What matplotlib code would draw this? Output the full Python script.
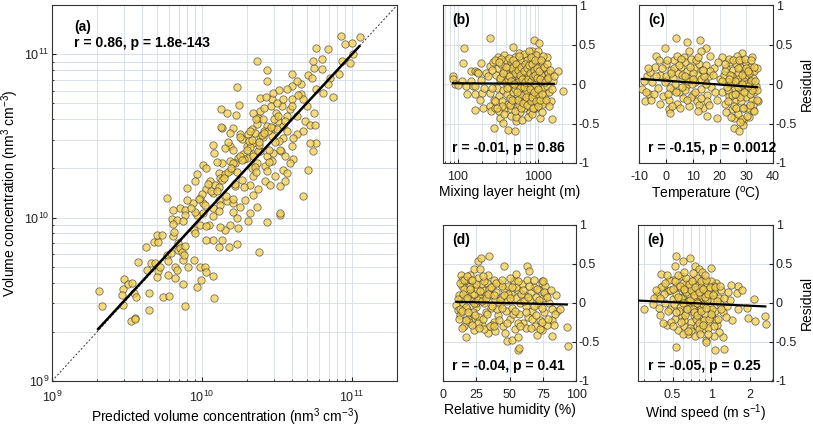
import matplotlib
matplotlib.use('Agg')
import matplotlib.pyplot as plt
import numpy as np
from matplotlib import rcParams
from matplotlib.ticker import LogLocator, FixedLocator, NullFormatter, FixedFormatter

config = {
    'font.family': ['Liberation Sans', 'DejaVu Sans'],
    'font.size': 9.5,
    'mathtext.fontset': 'custom',
    'mathtext.rm': 'Liberation Sans',
    'mathtext.default': 'regular',
    'axes.unicode_minus': False,
}
rcParams.update(config)

# ---- (a) predicted vs observed volume concentration, units of 1e10 nm3 cm-3
pred_a = [0.207, 0.214, 0.303, 0.296, 0.292, 0.299, 0.323, 0.343, 0.352, 0.363, 0.336, 0.359, 0.355,
          0.374, 0.427, 0.445, 0.443, 0.423, 0.459, 0.486, 0.481, 0.507, 0.499, 0.543, 0.512, 0.499,
          0.525, 0.552, 0.603, 0.582, 0.596, 0.596, 0.621, 0.628, 0.678, 0.638, 0.644, 0.689, 0.661,
          0.678, 0.664, 0.689, 0.713, 0.733, 0.743, 0.759, 0.770, 0.743, 0.767, 0.811, 0.885, 0.922,
          0.990, 0.970, 1.04, 1.06, 1.18, 1.20, 0.885, 0.898, 0.920, 0.970, 1.02,
          1.19, 1.29, 1.37, 1.72, 1.52, 2.41, 2.70, 3.30, 2.04, 1.70, 1.75, 1.54, 1.42, 1.32, 1.12,
          1.07, 1.06, 1.19,
          8.41, 11.3, 8.98, 9.95, 5.75, 6.95, 10.2, 9.70, 8.60, 8.20, 7.10, 6.28, 5.60, 5.50, 6.30,
          5.10, 5.40, 6.95, 6.40, 7.50, 5.80, 4.60, 3.96, 4.30, 3.96, 4.00, 4.60, 4.70, 5.00, 5.60,
          4.86, 5.25, 5.66, 5.80, 5.50, 5.07, 5.25, 4.73, 4.28, 4.06, 3.96, 4.06, 4.73, 3.30, 3.67,
          3.40, 3.49, 3.11, 2.91, 2.99, 3.28, 3.67, 2.70, 2.70, 2.32, 1.70, 1.77, 1.69, 1.34, 1.46,
          2.44, 2.67, 2.44, 2.20, 2.37, 2.56, 2.70, 2.32, 2.14, 2.99, 3.15, 3.48, 3.28, 2.91, 2.44,
          2.26, 2.04, 1.62, 1.54, 1.37, 1.79, 1.84, 1.54, 1.19, 1.42, 1.62, 1.99, 2.20, 2.20, 2.44,
          2.70, 2.99, 2.91, 2.63, 2.32, 2.14, 1.99, 1.75, 1.66, 1.54, 1.35, 1.25, 1.02, 1.07, 1.29,
          1.32, 1.13, 1.22, 0.92, 0.898, 0.798, 1.07, 1.19, 1.29, 1.46, 1.62, 1.79, 1.94, 2.20, 2.37,
          2.63, 2.84, 3.07, 2.70, 2.20, 2.09, 1.84, 1.66, 1.45, 1.32, 1.19, 1.05, 0.970, 0.875,
          0.791, 0.713, 0.770, 0.644, 0.582, 0.770, 0.898, 1.02, 1.62, 2.09, 2.32, 1.34, 2.87, 3.15,
          3.48, 3.86, 4.28, 3.67, 3.36, 3.57, 3.86, 3.48, 3.67, 3.57, 3.31,
          1.56, 1.88, 2.10, 2.35, 2.55, 2.80, 3.05, 1.42, 1.65, 1.90, 2.25, 2.60, 1.30, 1.50, 1.80,
          2.05, 2.40, 2.75, 3.20, 1.15, 1.35, 1.60, 2.15, 2.50, 3.00,
          1.00, 1.10, 1.25, 1.40, 1.55, 1.70, 1.85, 2.00, 2.20, 2.40, 2.60, 2.90, 3.20, 3.60, 4.00,
          4.40, 1.20, 1.50, 1.80, 2.10, 2.30, 2.60, 1.30, 1.60, 1.90, 2.30, 2.80, 3.30, 0.85, 0.95,
          0.75, 0.65]
obs_a = [0.355, 0.286, 0.420, 0.365, 0.336, 0.291, 0.390, 0.400, 0.345, 0.326, 0.233, 0.243, 0.238,
         0.537, 0.480, 0.345, 0.272, 0.658, 0.527, 0.527, 0.708, 0.708, 0.787, 0.787, 0.469, 0.433,
         0.500, 0.329, 0.331, 0.593, 0.540, 0.447, 0.607, 0.980, 0.973, 0.920, 0.767, 0.700, 0.500,
         0.475, 0.428, 0.630, 0.650, 0.620, 0.552, 0.593, 0.667, 0.394, 0.286, 0.500, 0.552, 0.376,
         0.417, 0.500, 0.500, 0.467, 0.437, 0.320, 0.843, 0.805, 1.04, 0.906, 1.23,
         0.730, 0.660, 0.733, 0.692, 0.660, 0.612, 0.940, 1.04, 0.950, 0.996, 0.870, 0.906, 0.843,
         0.874, 0.906, 0.885, 0.733, 1.02,
         12.9, 12.7, 11.6, 11.8, 11.0, 10.8, 10.0, 8.90, 9.10, 7.60, 7.20, 8.10, 8.20, 9.10, 9.30,
         7.50, 7.20, 6.55, 5.80, 5.50, 6.10, 6.55, 7.60, 6.85, 6.40, 5.30, 5.70, 5.30, 4.80, 4.40,
         3.90, 3.70, 3.70, 2.85, 2.55, 1.95, 2.85, 3.39, 3.23, 3.08, 2.74, 2.29, 1.35, 1.07, 4.18,
         4.82, 3.63, 4.39, 5.30, 5.83, 6.05, 6.10, 6.85, 8.00, 9.10, 6.33, 4.87, 4.28, 4.65, 4.39,
         5.42, 5.50, 4.49, 4.39, 4.09, 3.99, 3.63, 3.72, 3.50, 3.55, 3.47, 3.08, 2.94, 3.16, 3.16,
         3.30, 3.23, 3.55, 3.30, 3.55, 3.23, 3.01, 2.74, 2.77, 2.67, 2.61, 2.74, 2.87, 2.47, 2.55,
         2.38, 2.50, 2.21, 2.08, 2.16, 2.02, 2.32, 2.32, 2.16, 2.21, 2.16, 2.18, 2.11, 2.02, 1.88,
         1.75, 1.67, 1.59, 1.84, 1.67, 1.52, 1.49, 1.42, 1.29, 1.26, 1.23, 1.17, 1.29, 1.38, 1.49,
         1.67, 1.59, 1.79, 1.92, 1.79, 1.59, 1.71, 1.56, 1.35, 1.20, 1.15, 1.20, 1.32, 1.23,
         1.29, 1.15, 1.12, 1.12, 1.32, 1.04, 1.09, 1.07, 1.09, 1.07, 1.17, 3.60, 4.82, 5.06,
         5.30, 4.60, 4.18, 3.39, 2.55, 2.38, 2.16, 1.97, 1.88, 1.67, 1.56,
         1.95, 2.45, 2.70, 2.55, 3.10, 2.60, 2.90, 1.85, 1.60, 2.30, 2.05, 3.40, 1.55, 1.90, 2.40,
         2.95, 2.80, 3.40, 3.90, 1.45, 1.70, 2.15, 3.00, 3.20, 4.00,
         1.40, 1.60, 1.45, 1.75, 2.00, 1.90, 2.25, 2.60, 2.40, 2.90, 3.30, 3.60, 4.20, 3.90, 4.80,
         5.60, 2.50, 2.90, 3.10, 3.40, 4.00, 4.70, 1.10, 1.30, 1.55, 1.90, 2.20, 2.60, 1.15, 1.30,
         0.95, 0.82]
fit_a_x = [0.203, 11.2]
fit_a_y = [0.208, 11.2]

# ---- (b) mixing layer height (m) vs residual
mlh_b = [88, 87, 92, 120, 118, 112, 101, 127, 131, 148, 155, 166, 164, 164, 148, 165, 172, 178, 195,
         195, 202, 192, 212, 209, 250, 228, 251, 255, 255, 260, 282, 275, 287, 282, 314, 323, 338,
         367, 381, 417, 488, 520, 528, 883, 1019, 826, 1000, 1271, 1396, 1773, 2047, 1507, 1423,
         1464, 1050, 1211,
         300, 310, 320, 330, 340, 350, 355, 360, 370, 380, 385, 390, 400, 405, 410, 420, 425, 430,
         440, 445, 450, 460, 465, 470, 480, 490, 495, 500, 510, 515, 520, 530, 540, 545, 550, 560,
         570, 575, 580, 590, 600, 610, 615, 620, 630, 640, 650, 655, 660, 670, 680, 690, 700, 705,
         710, 720, 730, 740, 750, 760, 770, 780, 790, 800, 810, 820, 830, 840, 850, 860, 870, 880,
         890, 900, 910, 920, 930, 940, 950, 960, 970, 980, 990, 1010, 1030, 1050, 1070, 1090, 1110,
         1130, 1150, 1180, 1200, 1230, 1260, 1300, 1340, 1380,
         290, 295, 345, 375, 435, 455, 535, 585, 625, 665, 745, 775, 845, 935, 1100, 1150, 560, 600,
         650, 700, 750, 800, 850, 900, 470, 520, 580, 620, 680, 720, 760, 820, 880, 940, 1000, 1080,
         330, 360, 395, 415, 428, 448, 458, 475, 485, 505, 512, 525, 548, 555, 565, 578, 592, 605,
         612, 635, 645, 662, 675, 685, 695, 712, 725, 735, 748, 765, 785, 795, 805, 815, 835, 845,
         858, 865, 875, 895, 905, 915, 925, 945, 955, 975, 985, 995, 1020, 1040, 1060, 1085, 1120,
         1170, 1210, 1250, 1280, 1320, 1360, 1420, 1480, 1550, 240, 265, 270, 305, 335, 365]
res_b = [0.105, 0.063, 0.0, 0.455, 0.266, 0.034, -0.013, -0.021, -0.127, 0.034, -0.021, -0.021,
         -0.127, -0.325, 0.16, 0.17, 0.148, 0.135, 0.266, 0.05, -0.114, -0.2, -0.051, -0.308, 0.582,
         0.135, 0.232, -0.118, -0.274, -0.338, -0.203, 0.274, -0.308, -0.557, 0.346, -0.338, -0.43,
         -0.498, 0.367, -0.582, 0.464, -0.6, -0.464, 0.561, 0.519, 0.422, 0.413, 0.346, 0.127, 0.16,
         -0.093, 0.034, -0.211, -0.443, -0.43, -0.232,
         0.12, -0.05, 0.2, -0.15, 0.05, 0.25, -0.22, 0.1, -0.08, 0.18, -0.3, 0.02, 0.3, -0.12, 0.14,
         -0.25, 0.06, 0.22, -0.04, -0.18, 0.1, 0.28, -0.32, 0.0, 0.16, -0.1, 0.24, -0.22, 0.08, 0.34,
         -0.06, 0.18, -0.28, 0.02, 0.12, -0.15, 0.26, -0.02, 0.08, -0.36, 0.2, -0.1, 0.04, 0.3, -0.2,
         0.14, -0.05, 0.22, -0.3, 0.06, 0.17, -0.14, 0.36, -0.24, 0.0, 0.1, -0.08, 0.25, -0.18, 0.05,
         0.15, -0.35, -0.02, 0.28, -0.12, 0.09, 0.2, -0.26, 0.03, 0.32, -0.08, 0.12, -0.18, 0.22,
         -0.04, 0.06, -0.3, 0.16, -0.12, 0.26, 0.0, -0.2, 0.1, 0.3, -0.08, 0.18, -0.16, 0.04, 0.24,
         -0.25, 0.1, -0.05, 0.2, -0.12, 0.06, -0.02, 0.14, -0.1,
         -0.22, 0.3, 0.32, -0.38, 0.33, -0.4, -0.42, 0.4, -0.45, 0.38, -0.42, 0.42, -0.38, 0.37,
         -0.35, 0.36, 0.02, -0.05, 0.08, -0.1, 0.12, 0.0, -0.06, 0.04, 0.2, 0.14, -0.26, -0.14, -0.22,
         0.3, -0.28, 0.34, -0.3, -0.04, -0.14, 0.12,
         0.28, -0.28, 0.22, -0.05, 0.1, -0.26, 0.04, -0.2, 0.3, 0.0, -0.34, 0.26, -0.1, 0.18, -0.2,
         0.36, 0.12, -0.3, 0.22, 0.06, -0.24, 0.16, -0.04, 0.26, 0.02, -0.16, 0.2, -0.26, 0.06, 0.24,
         -0.06, 0.14, -0.22, 0.04, 0.26, -0.16, 0.1, -0.3, 0.18, -0.1, 0.3, 0.0, 0.12, -0.22, 0.08,
         0.2, -0.06, -0.28, 0.16, -0.2, 0.06, 0.3, -0.12, 0.22, 0.02, -0.2, 0.26, 0.08, -0.28, 0.18,
         -0.06, 0.1, 0.1, -0.05, 0.18, -0.3, 0.08, 0.14]
fit_b_x = [88, 1560]
fit_b_y = [0.01, 0.003]

# ---- (c) temperature (degC) vs residual
temp_c = [3.7, 8, 12.8, -0.3, 14.9, 13, 8.7, 28.3, -3.8, 6.8, 16.5, 21.1, -7.9, -6.3, -8.8, 1.2, 1.4,
          15.5, 19.2, 25.5, 28.8, 28.8, 25.5, 27.3, 32.3, 34.2,
          -7, -6, -5, -4, -3, -2, -1, 0, 0.5, 1, 2, 2.5, 3, 3.5, 4, 4.5, 5, 5.5, 6, 6.5, 7, 7.5, 8,
          8.5, 9, 9.5, 10, 10.5, 11, 11.5, 12, 12.5, 13, 13.5, 14, 14.5, 15, 15.5, 16, 17, 18, 19, 20,
          -5.5, -2.5, 0.2, 1.5, 2.8, 4.2, 5.2, 6.2, 7.2, 8.2, 9.2, 10.2, 11.2, 12.2, 13.2, 14.2, 15.2,
          16.5, -1.5, 0.8, 3.2, 5.8, 9.8, 11.8,
          21, 21.5, 22, 22.5, 23, 23.5, 24, 24.5, 25, 25, 25.5, 26, 26, 26.5, 27, 27, 27.5, 28, 28,
          28.5, 29, 29, 29.5, 30, 30, 30.5, 31, 31, 31.5, 32, 32, 32.5, 33, 33, 33.5, 34, 22.5, 23.5,
          24.5, 25.5, 26.5, 27.5, 28.5, 29.5, 30.5, 31.5, 32.5, 23, 24, 26, 27, 28, 29, 30, 31, 33, 34,
          -8, -7.5, -6.5, -4.5, -3.5, -2, -0.5, 0.5, 1.8, 2.2, 3.8, 4.8, 6, 7, 8, 9, 10, 11, 12, 13,
          14, 15, 16, 17.5, 18.5, 19.5, 21, 22, 22.8, 23.2, 24, 24.8, 25.2, 25.8, 26.2, 26.8, 27.2,
          27.8, 28.2, 28.8, 29.2, 29.8, 30.2, 30.8, 31.2, 31.8, 32.2, 32.8, 33.2, 33.8, 24.2, 26.8,
          29.6, 31.6, 22.2, 27.6, 30.6, 25.6, 28.4, 23.6]
res_c = [0.58, 0.53, 0.56, 0.455, 0.455, 0.42, 0.42, 0.388, 0.359, 0.346, 0.359, 0.338, -0.211,
         -0.127, -0.063, -0.317, -0.367, -0.4, -0.435, -0.43, -0.464, -0.515, -0.557, -0.591, -0.325,
         -0.21,
         0.1, 0.15, 0.02, 0.22, -0.05, 0.12, -0.15, 0.25, 0.05, -0.2, 0.18, -0.08, 0.3, 0.0, -0.25,
         0.14, -0.1, 0.22, 0.06, -0.18, 0.28, -0.02, 0.16, -0.28, 0.08, 0.32, -0.12, 0.2, 0.02,
         -0.22, 0.12, 0.26, -0.06, 0.18, -0.3, 0.04, 0.24, -0.14, 0.1, -0.04, 0.2, -0.2, 0.06,
         -0.2, 0.3, 0.1, -0.05, 0.08, 0.35, -0.3, 0.12, -0.08, 0.04, -0.16, 0.14, 0.3, -0.26, 0.06,
         0.1, -0.22, 0.16, 0.2, -0.12, 0.2, 0.32, 0.0, -0.34,
         -0.1, 0.12, -0.25, 0.2, 0.02, -0.15, 0.28, -0.32, 0.08, 0.18, -0.05, -0.2, 0.25, 0.02,
         -0.38, 0.14, -0.1, 0.3, -0.22, 0.06, -0.3, 0.18, -0.04, 0.26, -0.16, 0.1, -0.42, 0.0, 0.22,
         -0.2, 0.34, 0.08, -0.1, 0.16, -0.02, 0.2, -0.36, 0.32, 0.1, -0.28, 0.36, 0.22, -0.44, 0.1,
         -0.3, -0.12, -0.26, -0.08, 0.0, -0.12, 0.06, -0.02, 0.04, 0.0, 0.14, -0.34, -0.08,
         0.04, -0.1, 0.2, -0.12, 0.1, -0.25, 0.02, 0.3, 0.14, -0.28, -0.1, 0.24, -0.04, 0.1, -0.2,
         0.22, 0.06, -0.1, 0.34, -0.18, 0.18, 0.0, -0.26, 0.12, -0.1, 0.28, 0.04, 0.16, -0.04,
         -0.22, 0.12, -0.14, 0.3, 0.04, -0.3, -0.04, 0.3, -0.16, 0.12, -0.3, -0.1, 0.2, -0.4, 0.16,
         -0.26, 0.04, -0.08, 0.22, 0.04, -0.2, -0.42, 0.2, 0.32, 0.3, 0.26, -0.48, -0.02, -0.12,
         0.0, 0.06]
fit_c_x = [-9, 34]
fit_c_y = [0.065, -0.04]

# ---- (d) relative humidity (%) vs residual
rh_d = [26, 28.6, 34.3, 23.6, 27.4, 46, 63.4, 64.7, 13.7, 19.9, 33.6, 54.7, 74.6, 85.8, 93.3, 94,
        82.1, 83.3, 17.4, 47.8, 51.7, 56, 56, 57.2, 70.9, 74.6, 82.1, 10, 11.2,
        12, 13, 14, 15, 16, 17, 18, 19, 20, 21, 22, 23, 24, 25, 26, 27, 28, 29, 30, 31, 32, 33, 34,
        35, 36, 37, 38, 39, 40, 41, 42, 43, 44, 45, 46, 47, 48, 49, 50, 51, 52, 53, 54, 55, 56, 57,
        58, 59, 60, 61, 62, 63, 64, 65, 66, 67, 68, 69, 70, 71, 72, 73, 74, 75, 76, 77, 78, 80, 82,
        85,
        12.5, 14.5, 16.5, 18.5, 20.5, 22.5, 24.5, 26.5, 28.5, 30.5, 32.5, 34.5, 36.5, 38.5, 40.5,
        42.5, 44.5, 46.5, 48.5, 50.5, 52.5, 54.5, 56.5, 58.5, 60.5, 62.5, 64.5, 66.5, 68.5, 70.5,
        72.5, 74.5, 76.5, 13.5, 15.5, 17.5, 19.5, 21.5, 23.5, 25.5, 27.5,
        11, 12, 13, 14, 15, 16, 17, 18, 19, 20, 21, 22, 23, 24, 25, 26, 27, 28, 29, 30, 31, 32, 33,
        34, 35, 36, 37, 38, 39, 40, 42, 44, 46, 48, 50, 52, 54, 56, 58, 60, 62, 64, 66, 68, 70, 72,
        74, 75, 76, 78, 79, 81, 84, 88, 14, 18, 22, 30, 38, 44]
res_d = [0.534, 0.577, 0.6, 0.436, 0.436, 0.47, 0.47, 0.406, 0.363, 0.363, 0.363, 0.376, 0.278,
         -0.106, -0.307, -0.555, -0.213, -0.278, -0.436, -0.491, -0.47, -0.436, -0.598, -0.577,
         -0.406, -0.342, -0.427, -0.021, -0.085,
         0.1, -0.15, 0.22, 0.0, -0.3, 0.15, -0.08, 0.28, 0.05, -0.22, 0.12, -0.35, 0.2, -0.05, 0.32,
         -0.18, 0.08, -0.28, 0.16, 0.0, -0.12, 0.25, -0.38, 0.1, -0.06, 0.2, -0.24, 0.04, 0.14,
         -0.16, 0.26, -0.02, 0.08, -0.3, 0.18, -0.1, 0.02, 0.22, -0.2, 0.12, -0.06, 0.28, -0.34,
         0.06, 0.16, -0.14, 0.0, 0.24, -0.26, 0.1, -0.04, 0.3, -0.18, 0.04, 0.14, -0.1, 0.2, -0.3,
         0.08, -0.02, 0.16, -0.22, 0.26, 0.06, -0.12, 0.1, -0.28, 0.0, -0.08, 0.1,
         -0.08, 0.3, 0.05, -0.2, 0.22, -0.12, 0.0, -0.26, 0.24, -0.34, 0.1, 0.18, -0.28, 0.3, -0.08,
         0.04, 0.22, -0.38, 0.12, 0.32, -0.14, 0.2, -0.26, 0.12, 0.02, -0.32, 0.22, -0.2, -0.04,
         0.18, -0.34, -0.06, 0.22, 0.05, 0.18, -0.05, -0.25, 0.02, 0.12, 0.18, 0.06,
         0.05, -0.2, 0.26, -0.1, 0.12, 0.3, -0.22, 0.06, -0.12, 0.18, 0.3, -0.28, 0.0, -0.15, 0.24,
         0.04, -0.32, 0.15, 0.02, -0.2, 0.28, 0.06, -0.14, 0.12, -0.3, 0.2, -0.04, 0.1, -0.36, 0.26,
         -0.22, -0.06, 0.1, -0.26, 0.06, 0.2, -0.1, 0.28, -0.3, 0.16, -0.12, 0.08, -0.32, 0.3,
         -0.16, 0.04, -0.24, 0.28, 0.14, 0.08, -0.2, 0.16, -0.14, -0.08, -0.32, 0.34, 0.3, 0.34,
         -0.3, 0.3]
fit_d_x = [10, 93]
fit_d_y = [0.015, -0.02]

# ---- (e) wind speed (m/s) vs residual
ws_e = [0.53, 0.6, 0.68, 0.52, 0.745, 0.81, 1.0, 0.41, 0.3, 0.35, 0.53, 1.07, 1.27, 0.92, 0.92, 1.24,
        1.15, 1.05, 1.45, 1.63, 1.58, 1.44, 1.74, 1.9, 1.95, 2.21, 2.15, 2.62, 2.68, 1.63, 1.32, 1.4,
        0.38, 0.4, 0.42, 0.44, 0.45, 0.46, 0.48, 0.5, 0.5, 0.52, 0.53, 0.55, 0.56, 0.57, 0.58, 0.59,
        0.6, 0.61, 0.62, 0.63, 0.64, 0.65, 0.66, 0.67, 0.68, 0.69, 0.7, 0.71, 0.72, 0.73, 0.74,
        0.75, 0.76, 0.77, 0.78, 0.79, 0.8, 0.81, 0.82, 0.83, 0.84, 0.85, 0.86, 0.87, 0.88, 0.89,
        0.9, 0.92, 0.94, 0.96, 0.98, 1.0, 1.02, 1.04, 1.06, 1.08, 1.1, 1.12, 1.15, 1.18, 1.2, 1.23,
        0.43, 0.47, 0.49, 0.51, 0.54, 0.56, 0.58, 0.6, 0.62, 0.64, 0.66, 0.68, 0.7, 0.72, 0.74,
        0.76, 0.78, 0.8, 0.82, 0.84, 0.86, 0.88, 0.9, 0.93, 0.95, 0.97, 0.99, 1.01, 1.05, 1.09,
        0.36, 0.39, 0.41, 0.37,
        0.4, 0.42, 0.44, 0.46, 0.48, 0.5, 0.52, 0.53, 0.55, 0.57, 0.58, 0.6, 0.61, 0.63, 0.64, 0.65,
        0.67, 0.68, 0.7, 0.71, 0.73, 0.74, 0.75, 0.77, 0.78, 0.8, 0.81, 0.83, 0.84, 0.86, 0.87,
        0.89, 0.91, 0.92, 0.94, 0.96, 0.98, 1.0, 1.03, 1.06, 1.08, 1.11, 1.14, 1.17, 1.2, 1.25, 1.3,
        1.35, 0.45, 0.55, 0.62, 0.72, 0.85, 0.9, 0.6, 0.66, 0.75, 0.82, 0.95, 0.5]
res_e = [0.6, 0.543, 0.577, 0.47, 0.47, 0.44, 0.45, 0.376, -0.072, -0.02, -0.564, -0.6, -0.585,
         -0.47, -0.5, -0.436, -0.372, -0.42, -0.213, 0.222, 0.128, 0.235, 0.17, -0.064, -0.192,
         -0.23, 0.05, -0.17, -0.265, -0.072, -0.04, 0.043,
         0.1, -0.15, 0.22, 0.0, -0.28, 0.15, -0.08, 0.3, 0.05, -0.2, 0.12, -0.35, 0.2, -0.05, 0.34,
         -0.18, 0.08, -0.3, 0.16, 0.0, -0.12, 0.26, -0.4, 0.1, -0.06, 0.2, -0.24, 0.04, 0.14, -0.16,
         0.3, -0.02, 0.08, -0.3, 0.18, -0.1, 0.02, 0.24, -0.2, 0.12, -0.06, 0.3, -0.34, 0.06, 0.16,
         -0.14, 0.0, 0.24, -0.26, 0.1, -0.04, 0.2, -0.18, 0.04, 0.14, -0.1, 0.26, -0.28, 0.06,
         -0.02, 0.16, -0.12,
         0.12, 0.3, -0.25, -0.02, 0.22, -0.1, 0.06, 0.26, -0.22, 0.14, 0.02, -0.32, 0.16, -0.08,
         0.06, -0.2, 0.32, -0.26, 0.1, 0.2, -0.02, -0.22, 0.12, 0.04, -0.32, 0.18, 0.28, -0.08,
         0.22, -0.22, 0.06, -0.06, 0.2, 0.16,
         0.06, -0.26, 0.25, -0.1, 0.16, -0.3, 0.28, -0.12, 0.08, 0.22, -0.24, 0.0, 0.18, -0.16,
         0.32, -0.08, 0.24, 0.04, -0.36, 0.28, 0.1, -0.12, 0.2, 0.0, -0.16, 0.14, -0.34, 0.28, -0.1,
         0.18, -0.28, 0.08, -0.06, 0.3, 0.12, -0.2, 0.2, -0.14, 0.1, -0.3, 0.2, 0.02, -0.2, 0.22,
         -0.08, 0.06, -0.18, 0.14, 0.36, 0.36, 0.4, 0.38, 0.4, 0.36, -0.4, -0.36, -0.42, -0.4, -0.4,
         0.18]
fit_e_x = [0.27, 2.65]
fit_e_y = [0.03, -0.045]

res_ticks = [-1, -0.5, 0, 0.5, 1]
res_labels = ['-1', '-0.5', '0', '0.5', '1']

face = '#f3cf52'
edge = '#4a4535'
grid_c = '#d9e1e8'

fig = plt.figure(figsize=(8.13, 4.30), dpi=100)


def style(ax, xpad):
    ax.tick_params(which='both', direction='in', length=3, colors='#222222', labelsize=9, pad=2)
    ax.tick_params(axis='x', pad=xpad)
    ax.tick_params(which='minor', length=1.5)
    for s in ax.spines.values():
        s.set_color('#333333')
        s.set_linewidth(0.8)
    ax.grid(True, which='both', color=grid_c, linewidth=0.7)
    ax.set_axisbelow(True)


def dots(ax, x, y):
    ax.scatter(x, y, s=28, facecolor=face, edgecolor=edge, linewidths=0.6, alpha=0.75, zorder=3)


# (a)
ax = fig.add_axes([0.064, 0.114, 0.4244, 0.874])
ax.set_xscale('log')
ax.set_yscale('log')
style(ax, 6)
ax.plot([1e9, 2e11], [1e9, 2e11], color='#333333', lw=0.7, ls=(0, (2, 2)), zorder=2)
dots(ax, np.array(pred_a) * 1e10, np.array(obs_a) * 1e10)
ax.plot(np.array(fit_a_x) * 1e10, np.array(fit_a_y) * 1e10, color='black', lw=1.8, zorder=4)
ax.set_xlim(1e9, 2e11)
ax.set_ylim(1e9, 2e11)
ax.xaxis.set_major_locator(LogLocator(base=10, numticks=10))
ax.yaxis.set_major_locator(LogLocator(base=10, numticks=10))
ax.set_xlabel('Predicted volume concentration (nm$^3$ cm$^{-3}$)', fontsize=10, labelpad=1)
ax.set_ylabel('Volume concentration (nm$^3$ cm$^{-3}$)', fontsize=10, labelpad=2)
ax.text(0.065, 0.93, '(a)', transform=ax.transAxes, fontweight='bold', fontsize=10)
ax.text(0.065, 0.89, 'r = 0.86, p = 1.8e-143', transform=ax.transAxes, fontweight='bold',
        fontsize=10)

panels = [
    ([0.545, 0.621, 0.1636, 0.367], mlh_b, res_b, fit_b_x, fit_b_y, '(b)', 'r = -0.01, p = 0.86',
     'Mixing layer height (m)', False),
    ([0.786, 0.621, 0.165, 0.367], temp_c, res_c, fit_c_x, fit_c_y, '(c)', 'r = -0.15, p = 0.0012',
     'Temperature ($^{o}$C)', True),
    ([0.545, 0.114, 0.1636, 0.363], rh_d, res_d, fit_d_x, fit_d_y, '(d)', 'r = -0.04, p = 0.41',
     'Relative humidity (%)', False),
    ([0.785, 0.114, 0.166, 0.363], ws_e, res_e, fit_e_x, fit_e_y, '(e)', 'r = -0.05, p = 0.25',
     'Wind speed (m s$^{-1}$)', True),
]

for pos, x, y, fx, fy, tag, stat, xlab, ylab in panels:
    ax = fig.add_axes(pos)
    if tag in ('(b)', '(e)'):
        ax.set_xscale('log')
    style(ax, 6)
    dots(ax, x, y)
    ax.plot(fx, fy, color='black', lw=1.6, zorder=4)
    ax.set_ylim(-1, 1)
    ax.yaxis.tick_right()
    ax.tick_params(axis='y', pad=2)
    ax.yaxis.set_major_locator(FixedLocator(res_ticks))
    ax.yaxis.set_major_formatter(FixedFormatter(res_labels))
    if tag == '(b)':
        ax.set_xlim(66, 2950)
        ax.xaxis.set_major_locator(FixedLocator([100, 1000]))
        ax.xaxis.set_major_formatter(FixedFormatter(['100', '1000']))
        ax.xaxis.set_minor_formatter(NullFormatter())
    elif tag == '(c)':
        ax.set_xlim(-10, 40)
        ax.set_xticks([-10, 0, 10, 20, 30, 40])
    elif tag == '(d)':
        ax.set_xlim(0, 100)
        ax.set_xticks([0, 25, 50, 75, 100])
    else:
        ax.set_xlim(0.27, 3.05)
        ax.xaxis.set_major_locator(FixedLocator([0.5, 1, 2]))
        ax.xaxis.set_major_formatter(FixedFormatter(['0.5', '1', '2']))
        ax.xaxis.set_minor_locator(LogLocator(base=10, subs=np.arange(1, 10) * 1.0, numticks=10))
        ax.xaxis.set_minor_formatter(NullFormatter())
    ax.set_xlabel(xlab, fontsize=10, labelpad=1)
    if ylab:
        ax.yaxis.set_label_position('right')
        ax.set_ylabel('Residual', fontsize=10, labelpad=2)
    ax.text(0.07, 0.88, tag, transform=ax.transAxes, fontweight='bold', fontsize=10)
    ax.text(0.07, 0.07, stat, transform=ax.transAxes, fontweight='bold', fontsize=10)

fig.savefig('out.png', dpi=100)
